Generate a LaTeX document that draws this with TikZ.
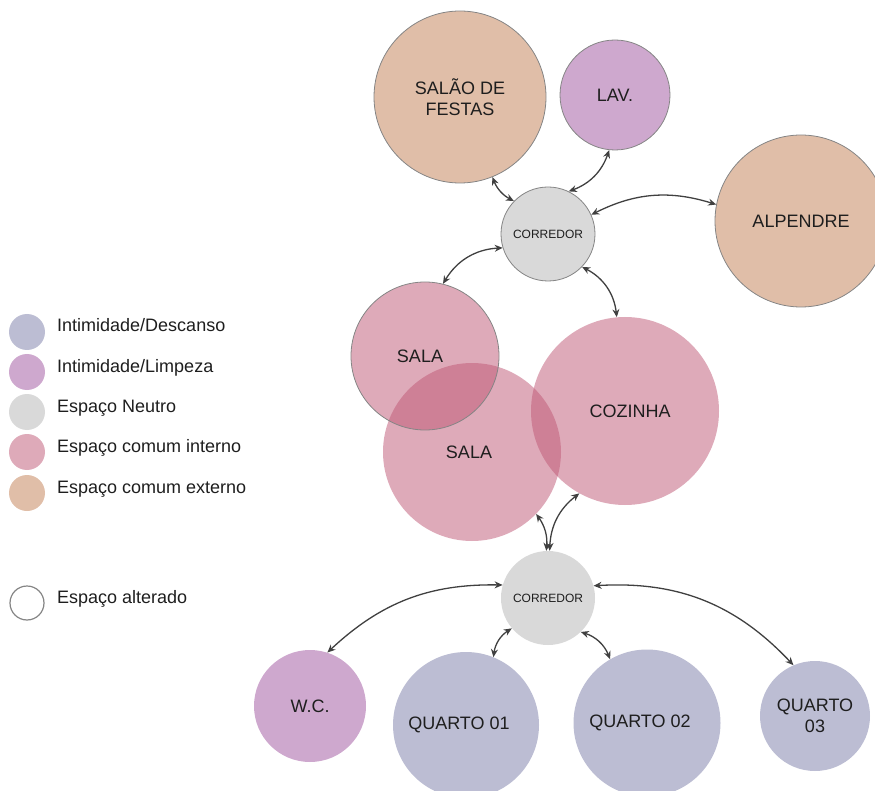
\documentclass[tikz,border=0pt]{standalone}
\usepackage{fontspec}
\setmainfont{Liberation Sans}
\usetikzlibrary{arrows.meta}
\definecolor{cdesc}{HTML}{BCBDD3}
\definecolor{climp}{HTML}{CEA8CE}
\definecolor{cneu}{HTML}{D9D9D9}
\definecolor{cint}{RGB}{190,86,116}
\definecolor{cext}{HTML}{E0BEA8}
\definecolor{cedge}{HTML}{858585}
\definecolor{carrow}{HTML}{404040}
\definecolor{ctext}{HTML}{1E1E1E}
\begin{document}
\begin{tikzpicture}[x=1pt,y=1pt,
 room/.style={circle, inner sep=0pt, align=center, text=ctext, font=\fontsize{18}{21}\selectfont},
 edged/.style={draw=cedge, line width=0.8pt},
 corr/.style={room, fill=cneu, minimum size=94pt, font=\fontsize{12}{14}\selectfont},
 pinkroom/.style={room, fill=cint, fill opacity=0.5, text opacity=1},
 link/.style={carrow, line width=1.3pt, {Stealth[length=8pt,width=7pt]}-{Stealth[length=8pt,width=7pt]}},
 legdot/.style={circle, inner sep=0pt, minimum size=36pt},
 legtext/.style={anchor=base west, inner sep=0pt, text=ctext, font=\fontsize{18}{21}\selectfont}]
\useasboundingbox (0,0) rectangle (875,-791);
\clip (0,0) rectangle (875,-791);

% upper group
\node[room, edged, fill=cext, minimum size=172pt] (salao) at (460,-97) {SALÃO DE\\FESTAS};
\node[room, edged, fill=climp, minimum size=110pt] (lav) at (615,-95) {LAV.};
\node[corr, edged] (c1) at (548,-234) {CORREDOR};
\node[room, edged, fill=cext, minimum size=172pt] (alp) at (801,-221) {ALPENDRE};

% common internal
\node[pinkroom, minimum size=188pt] (coz) at (625,-411) {\hspace*{10pt}COZINHA};
\node[pinkroom, minimum size=178pt] (sala) at (472,-452) {\hspace*{-6pt}SALA};
\node[pinkroom, edged, minimum size=148pt] (salaold) at (425,-356) {\hspace*{-10pt}SALA};

% lower group
\node[corr] (c2) at (548,-598) {CORREDOR};
\node[room, fill=climp, minimum size=112pt] (wc) at (310,-706) {W.C.};
\node[room, fill=cdesc, minimum size=146pt] (q1) at (466,-725) {\hspace*{-14pt}QUARTO 01};
\node[room, fill=cdesc, minimum size=147pt] (q2) at (647,-723) {\hspace*{-14pt}QUARTO 02};
\node[room, fill=cdesc, minimum size=110pt] (q3) at (815,-716) {QUARTO\\03};

% connectors
\draw[link] (salao.-68) to[bend right=20] (c1.136);
\draw[link] (lav.-96) to[bend left=25] (c1.64);
\draw[link] (c1.24) to[bend left=22] (alp.169);
\draw[link] (c1.-163) to[bend right=28] (salaold.76);
\draw[link] (c1.-44) to[bend left=28] (coz.95);
\draw[link] (sala.-44) to[bend left=20] (c2.92);
\draw[link] (coz.-119) to[bend right=25] (c2.88);
\draw[link] (c2.164) to[bend right=22] (wc.72);
\draw[link] (c2.-140) to[bend right=25] (q1.68);
\draw[link] (c2.-46) to[bend left=25] (q2.120);
\draw[link] (c2.15) to[bend left=25] (q3.113);

% legend
\node[legdot, fill=cdesc] (l1) at (27,-332) {};
\node[legdot, fill=climp] (l2) at (27,-372) {};
\node[legdot, fill=cneu] (l3) at (27,-412) {};
\node[legdot, fill=cint, fill opacity=0.5] (l4) at (27,-452) {};
\node[legdot, fill=cext] (l5) at (27,-493) {};
\node[legdot, fill=white, draw=cedge, line width=1.2pt, minimum size=34pt] (l6) at (27,-603) {};
\node[legtext] (t1) at (57,-332) {Intimidade/Descanso};
\node[legtext] (t2) at (57,-372) {Intimidade/Limpeza};
\node[legtext] (t3) at (57,-412) {Espaço Neutro};
\node[legtext] (t4) at (57,-452) {Espaço comum interno};
\node[legtext] (t5) at (57,-493) {Espaço comum externo};
\node[legtext] (t6) at (57,-603) {Espaço alterado};
\end{tikzpicture}
\end{document}
